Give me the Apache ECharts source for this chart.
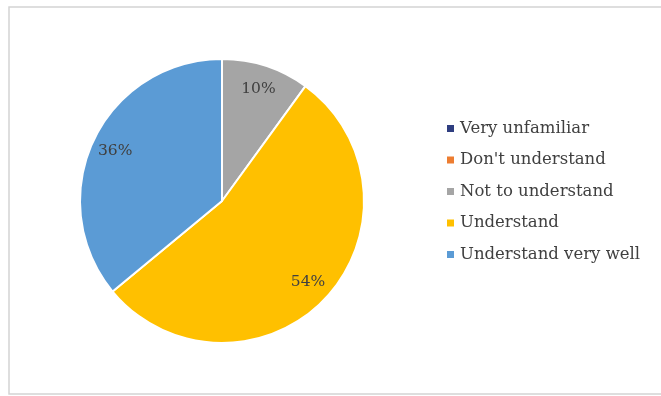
<!DOCTYPE html>
<html>
<head>
<meta charset="utf-8">
<script src="https://cdn.jsdelivr.net/npm/echarts@6/dist/echarts.min.js"></script>
<style>
  html, body { margin: 0; padding: 0; background: #fff; }
  #chart { width: 661px; height: 396px; }
</style>
</head>
<body>
<div id="chart"></div>
<script>
// Survey answers and their shares (percent)
const categories = ['Very unfamiliar', "Don't understand", 'Not to understand', 'Understand', 'Understand very well'];
const shares = [0, 0, 10, 54, 36];
const colors = ['#2F3E80', '#ED7D31', '#A5A5A5', '#FFC000', '#5B9BD5'];

const pieData = categories.map((name, i) => ({
  name: name,
  value: shares[i],
  itemStyle: { color: colors[i] }
}));

const chart = echarts.init(document.getElementById('chart'), null, { renderer: 'canvas' });

const center = [222, 201];
const outer = 142;

chart.setOption({
  animation: false,
  backgroundColor: '#ffffff',
  graphic: [{
    type: 'rect',
    shape: { x: 9, y: 7, width: 670, height: 387 },
    style: { fill: 'none', stroke: '#D4D4D4', lineWidth: 1.5 },
    silent: true
  }],
  legend: {
    orient: 'vertical',
    left: 445,
    top: 118.5,
    padding: 0,
    icon: 'rect',
    itemWidth: 9,
    itemHeight: 9,
    itemGap: 11.5,
    data: categories,
    textStyle: {
      fontFamily: 'DejaVu Serif',
      fontSize: 16.5,
      lineHeight: 20,
      color: '#404040'
    }
  },
  series: [
    {
      // slices
      name: 'share',
      type: 'pie',
      center: center,
      radius: [0, outer],
      startAngle: 90,
      clockwise: true,
      label: { show: false },
      labelLine: { show: false },
      itemStyle: { borderColor: '#ffffff', borderWidth: 2 },
      emphasis: { disabled: true },
      data: pieData
    },
    {
      // percentage labels placed near the rim
      name: 'labels',
      type: 'pie',
      center: center,
      radius: [88, outer],
      startAngle: 90,
      clockwise: true,
      silent: true,
      legendHoverLink: false,
      itemStyle: { color: 'rgba(0,0,0,0)', borderWidth: 0 },
      label: {
        show: true,
        position: 'inside',
        formatter: p => (p.value > 0 ? p.value + '%' : ''),
        fontFamily: 'DejaVu Serif',
        fontSize: 15.5,
        color: '#404040'
      },
      labelLine: { show: false },
      emphasis: { disabled: true },
      data: categories.map((name, i) => ({ name: name, value: shares[i] }))
    }
  ]
});
</script>
</body>
</html>
